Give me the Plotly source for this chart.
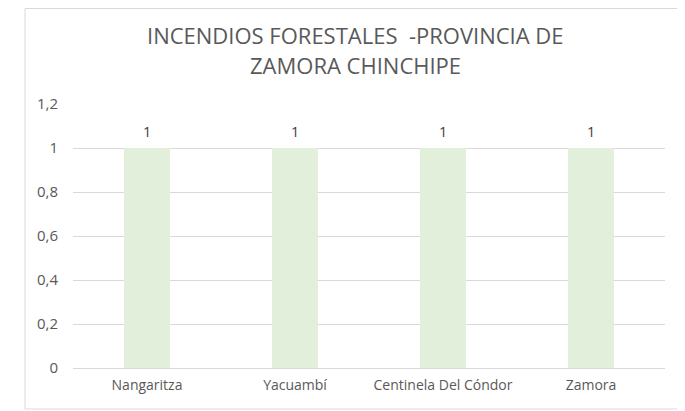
import plotly.graph_objects as go

categories = ["Nangaritza", "Yacuambí", "Centinela Del Cóndor", "Zamora"]
values = [1, 1, 1, 1]
tick_vals = [0, 0.2, 0.4, 0.6, 0.8, 1, 1.2]
title_lines = ["INCENDIOS FORESTALES \u00a0-PROVINCIA DE", "ZAMORA CHINCHIPE"]

# page body has an 8px margin, so work in figure coords = screen - 8
OFF = 8
W, H = 685 - OFF, 411 - OFF
L, R, T, B = 73 - OFF, W - (665 - OFF), 104 - OFF, H - (368 - OFF)
pw, ph = W - L - R, H - T - B

def px_x(x):
    return (x - OFF - L) / pw

def px_y(y):
    return (H - B - (y - OFF)) / ph

fig = go.Figure()
fig.add_trace(go.Bar(
    x=categories, y=values,
    marker=dict(color="#E2EFDA", line=dict(width=0)),
    width=0.31,
    hoverinfo="skip",
))

label_annots = [dict(
    x=c, y=v, xref="x", yref="y", text=str(v).replace(".", ","),
    showarrow=False, yanchor="bottom", yshift=5,
    font=dict(family="Open Sans", size=14.5, color="#404040"),
) for c, v in zip(categories, values)]

title_annots = [dict(
    x=px_x(355), y=px_y(yc), xref="paper", yref="paper",
    text=t, showarrow=False, xanchor="center", yanchor="middle",
    font=dict(family="Open Sans", size=22, color="#595959"),
) for t, yc in zip(title_lines, [35, 65])]

fig.update_layout(
    width=W, height=H,
    margin=dict(l=L, r=R, t=T, b=B),
    paper_bgcolor="white", plot_bgcolor="white",
    separators=",.",
    showlegend=False,
    xaxis=dict(showgrid=False, showline=True, linecolor="#D9D9D9", linewidth=1,
               ticks="", ticklabelstandoff=4,
               tickfont=dict(family="Open Sans", size=14, color="#595959")),
    yaxis=dict(range=[0, 1.2], tickvals=tick_vals, showgrid=True, gridcolor="#D9D9D9",
               zeroline=False, showline=False, ticks="", ticklabelstandoff=14,
               tickfont=dict(family="Open Sans", size=15, color="#595959")),
    annotations=label_annots + title_annots,
    shapes=[dict(type="rect", xref="paper", yref="paper",
                 x0=px_x(25), x1=px_x(683), y0=px_y(409), y1=px_y(8.5),
                 line=dict(color="#D9D9D9", width=1), fillcolor="rgba(0,0,0,0)", layer="below")],
)

fig.write_html("out.html")
